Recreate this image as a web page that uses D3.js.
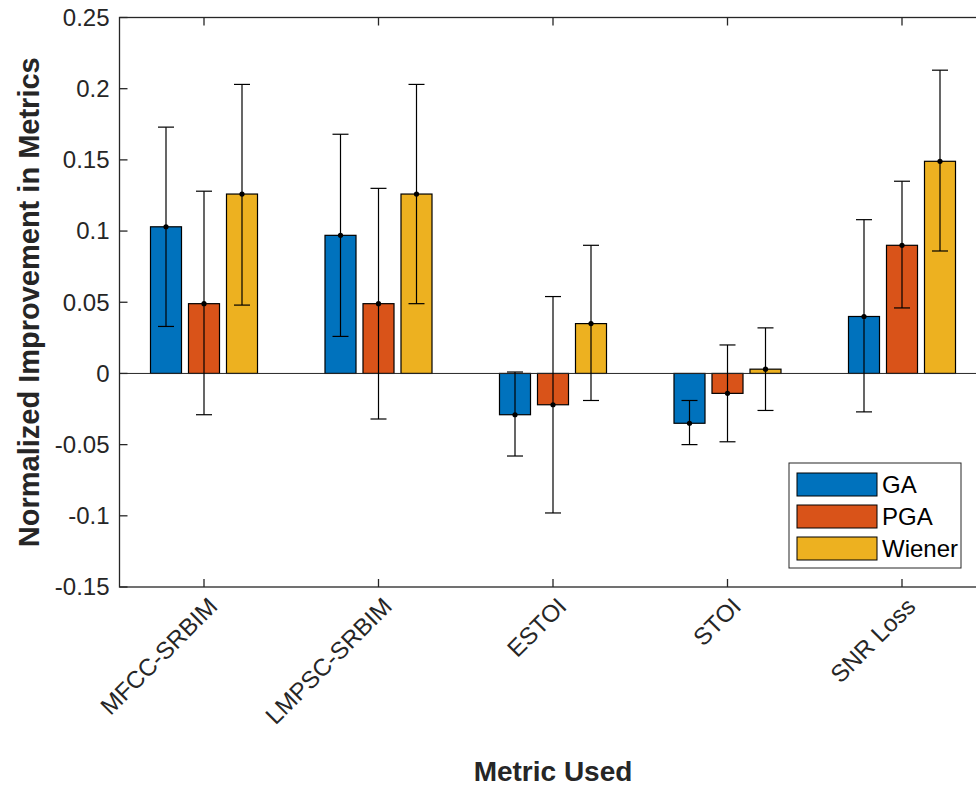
<!DOCTYPE html>
<html>
<head>
<meta charset="utf-8">
<script src="https://cdn.jsdelivr.net/npm/d3@7"></script>
<style>
  body { margin: 0; background: #fff; }
  svg { display: block; font-family: "Liberation Sans", Arial, sans-serif; }
</style>
</head>
<body>
<div id="chart"></div>
<script>
// chart data
var categories = ["MFCC-SRBIM", "LMPSC-SRBIM", "ESTOI", "STOI", "SNR Loss"];
var series = ["GA", "PGA", "Wiener"];
var colors = ["#0072BD", "#D95319", "#EDB120"];

var gaMean   = [0.103, 0.097, -0.029, -0.035, 0.040];
var gaLow    = [0.033, 0.026, -0.058, -0.050, -0.027];
var gaHigh   = [0.173, 0.168, 0.001, -0.019, 0.108];

var pgaMean  = [0.049, 0.049, -0.022, -0.014, 0.090];
var pgaLow   = [-0.029, -0.032, -0.098, -0.048, 0.046];
var pgaHigh  = [0.128, 0.130, 0.054, 0.020, 0.135];

var wienMean = [0.126, 0.126, 0.035, 0.003, 0.149];
var wienLow  = [0.048, 0.049, -0.019, -0.026, 0.086];
var wienHigh = [0.203, 0.203, 0.090, 0.032, 0.213];

var yTicks = [-0.15, -0.1, -0.05, 0, 0.05, 0.1, 0.15, 0.2, 0.25];

var means = [gaMean, pgaMean, wienMean];
var lows = [gaLow, pgaLow, wienLow];
var highs = [gaHigh, pgaHigh, wienHigh];

var width = 976, height = 788;
var margin = {top: 17.5, left: 119.5, bottom: 201, right: -15.5};
var plotW = width - margin.left - margin.right,
    plotH = height - margin.top - margin.bottom;

var svg = d3.select("#chart").append("svg")
    .attr("width", width)
    .attr("height", height);

var g = svg.append("g")
    .attr("transform", "translate(" + margin.left + "," + margin.top + ")");

// category positions 1..5 (box runs past the right edge of the picture)
var x = d3.scaleLinear().domain([1, categories.length]).range([84.5, 782.5]);
var y = d3.scaleLinear().domain([-0.15, 0.25]).range([plotH, 0]);
var xSub = d3.scaleBand().domain(series).range([-57, 57]).paddingInner(0.184).paddingOuter(0.092);

// bars
var rows = [];
series.forEach(function (s, si) {
    categories.forEach(function (c, ci) {
        rows.push({s: s, si: si, ci: ci, v: means[si][ci], lo: lows[si][ci], hi: highs[si][ci]});
    });
});

g.selectAll("rect.bar")
    .data(rows)
    .enter().append("rect")
    .attr("class", "bar")
    .attr("x", function (d) { return x(d.ci + 1) + xSub(d.s); })
    .attr("width", xSub.bandwidth())
    .attr("y", function (d) { return y(Math.max(0, d.v)); })
    .attr("height", function (d) { return Math.abs(y(d.v) - y(0)); })
    .style("fill", function (d) { return colors[d.si]; })
    .style("stroke", "#000")
    .style("stroke-width", 1.2);

// baseline
g.append("line")
    .attr("x1", 0).attr("x2", plotW)
    .attr("y1", y(0)).attr("y2", y(0))
    .style("stroke", "#262626")
    .style("stroke-width", 1);

// error bars
var eb = g.selectAll("g.err")
    .data(rows)
    .enter().append("g")
    .attr("class", "err")
    .attr("transform", function (d) {
        return "translate(" + (x(d.ci + 1) + xSub(d.s) + xSub.bandwidth() / 2) + ",0)";
    });
eb.append("line")
    .attr("y1", function (d) { return y(d.lo); })
    .attr("y2", function (d) { return y(d.hi); })
    .style("stroke", "#000").style("stroke-width", 1.2);
eb.append("line")
    .attr("x1", -8).attr("x2", 8)
    .attr("y1", function (d) { return y(d.lo); })
    .attr("y2", function (d) { return y(d.lo); })
    .style("stroke", "#000").style("stroke-width", 1.2);
eb.append("line")
    .attr("x1", -8).attr("x2", 8)
    .attr("y1", function (d) { return y(d.hi); })
    .attr("y2", function (d) { return y(d.hi); })
    .style("stroke", "#000").style("stroke-width", 1.2);
eb.append("circle")
    .attr("cy", function (d) { return y(d.v); })
    .attr("r", 2.6)
    .style("fill", "#000");

// axes box
var axisColor = "#262626";
g.append("rect")
    .attr("width", plotW).attr("height", plotH)
    .style("fill", "none")
    .style("stroke", axisColor)
    .style("stroke-width", 1.3);

// y ticks
g.selectAll("line.yt")
    .data(yTicks)
    .enter().append("line")
    .attr("x1", 0).attr("x2", 8)
    .attr("y1", function (d) { return y(d); })
    .attr("y2", function (d) { return y(d); })
    .style("stroke", axisColor).style("stroke-width", 1.3);
g.selectAll("text.yt")
    .data(yTicks)
    .enter().append("text")
    .attr("x", -10)
    .attr("y", function (d) { return y(d); })
    .attr("dy", "0.35em")
    .attr("text-anchor", "end")
    .style("font-size", "24px")
    .style("fill", axisColor)
    .text(function (d) { return d === 0 ? "0" : String(d); });

// x ticks (bottom and top, pointing inward)
categories.forEach(function (c, i) {
    g.append("line")
        .attr("x1", x(i + 1)).attr("x2", x(i + 1))
        .attr("y1", plotH).attr("y2", plotH - 8)
        .style("stroke", axisColor).style("stroke-width", 1.3);
    g.append("line")
        .attr("x1", x(i + 1)).attr("x2", x(i + 1))
        .attr("y1", 0).attr("y2", 8)
        .style("stroke", axisColor).style("stroke-width", 1.3);
});
g.selectAll("text.xt")
    .data(categories)
    .enter().append("text")
    .attr("transform", function (d, i) {
        return "translate(" + (x(i + 1) + 9) + "," + (plotH + 15) + ") rotate(-45)";
    })
    .attr("text-anchor", "end")
    .attr("dy", "0.35em")
    .style("font-size", "24px")
    .style("fill", axisColor)
    .text(function (d) { return d; });

// axis titles
svg.append("text")
    .attr("transform", "translate(" + 39 + "," + (margin.top + plotH / 2) + ") rotate(-90)")
    .attr("text-anchor", "middle")
    .style("font-size", "29px")
    .style("font-weight", "bold")
    .style("fill", axisColor)
    .text("Normalized Improvement in Metrics");
svg.append("text")
    .attr("x", margin.left + x(3))
    .attr("y", 781)
    .attr("text-anchor", "middle")
    .style("font-size", "28px")
    .style("font-weight", "bold")
    .style("fill", axisColor)
    .text("Metric Used");

// legend
var legend = svg.append("g").attr("transform", "translate(789,463)");
legend.append("rect")
    .attr("width", 172).attr("height", 105)
    .style("fill", "#fff")
    .style("stroke", axisColor)
    .style("stroke-width", 1);
var li = legend.selectAll("g.li")
    .data(series)
    .enter().append("g")
    .attr("transform", function (d, i) { return "translate(8," + (10 + i * 32) + ")"; });
li.append("rect")
    .attr("width", 80).attr("height", 23)
    .style("fill", function (d, i) { return colors[i]; })
    .style("stroke", "#000")
    .style("stroke-width", 1);
li.append("text")
    .attr("x", 85).attr("y", 12)
    .attr("dy", "0.35em")
    .style("font-size", "24px")
    .style("fill", "#000")
    .text(function (d) { return d; });
</script>
</body>
</html>
